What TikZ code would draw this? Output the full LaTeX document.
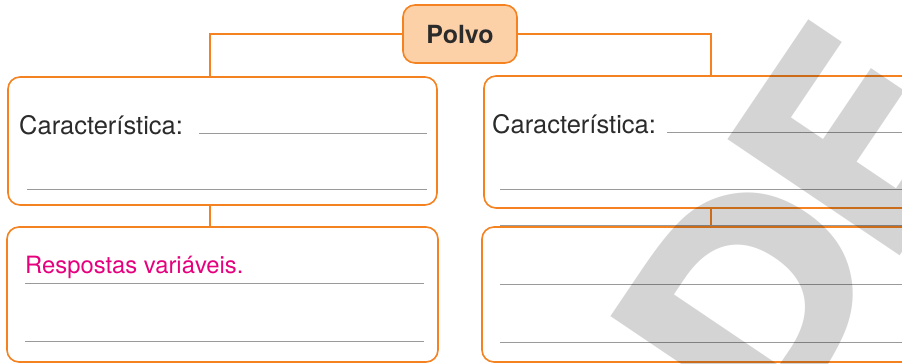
\documentclass[tikz,border=0pt]{standalone}
\usepackage{fontspec}
\setmainfont{TeX Gyre Heros}
\newfontfamily\stampfont{DejaVu Sans}
\definecolor{boxorange}{HTML}{F58220}
\definecolor{boxfill}{HTML}{FDD1A8}
\definecolor{inkdark}{HTML}{2B2B2B}
\definecolor{answer}{HTML}{E6007E}
\definecolor{ruleline}{HTML}{9A9A9A}
\tikzset{
  box/.style={draw=boxorange, line width=1.6pt, rounded corners=12pt, inner sep=0pt},
  titlebox/.style={box, fill=boxfill, font=\fontsize{25}{25}\selectfont\bfseries, text=inkdark},
  conn/.style={draw=boxorange, line width=1.6pt},
  label/.style={inner sep=0pt, anchor=base west, text=inkdark, font=\fontsize{25.5}{25.5}\selectfont},
  answertext/.style={label, text=answer, font=\fontsize{23.8}{23.8}\selectfont},
  writeline/.style={draw=ruleline, line width=1pt},
  stamp/.style={inner sep=0pt, anchor=base west, rotate=56, text=black, text opacity=0.17,
    font=\stampfont\fontsize{285}{285}\selectfont\bfseries}
}
\begin{document}
\begin{tikzpicture}[x=1pt, y=-1pt]
\useasboundingbox (0,0) rectangle (902,364);
\clip (0,0) rectangle (902,364);
\fill[white] (0,0) rectangle (902,364);

% title
\node[titlebox, minimum width=114pt, minimum height=58pt] (polvo) at (460,34) {Polvo};

% characteristic boxes
\node[box, minimum width=429pt, minimum height=128pt] (c1) at (222.5,141) {};
\node[box, minimum width=446pt, minimum height=132pt] (c2) at (707,142) {};
% answer boxes
\node[box, minimum width=431pt, minimum height=135pt] (r1) at (222.5,294.5) {};
\node[box, minimum width=448pt, minimum height=135pt] (r2) at (706,294.5) {};

% branch points
\coordinate (j1) at (210,0);
\coordinate (j2) at (711,0);

% connectors
\draw[conn] (polvo.west) -| (j1 |- c1.north);
\draw[conn] (polvo.east) -| (j2 |- c2.north);
\draw[conn] (j1 |- c1.south) -- (j1 |- r1.north);
\draw[conn] (j2 |- c2.south) -- (j2 |- r2.north);

% texts
\node[label] (t1) at (19,134) {Característica:};
\node[label] (t2) at (492,133) {Característica:};
\node[answertext] (t3) at (25,273) {Respostas variáveis.};

% writing lines
\draw[writeline] (199,133) -- (427,133);
\draw[writeline] (27,189) -- (427,189);
\draw[writeline] (667,132) -- (910,132);
\draw[writeline] (500,189) -- (910,189);
\draw[writeline] (25,283) -- (424,283);
\draw[writeline] (25,341) -- (424,341);
\draw[writeline] (500,225.5) -- (910,225.5);
\draw[writeline] (500,284) -- (910,284);
\draw[writeline] (500,342) -- (910,342);

% stamp lettering, one letter per node
\node[stamp] (wmd) at (768,455) {D};
\node[stamp] (wme) at (885,278) {E};
\end{tikzpicture}
\end{document}
